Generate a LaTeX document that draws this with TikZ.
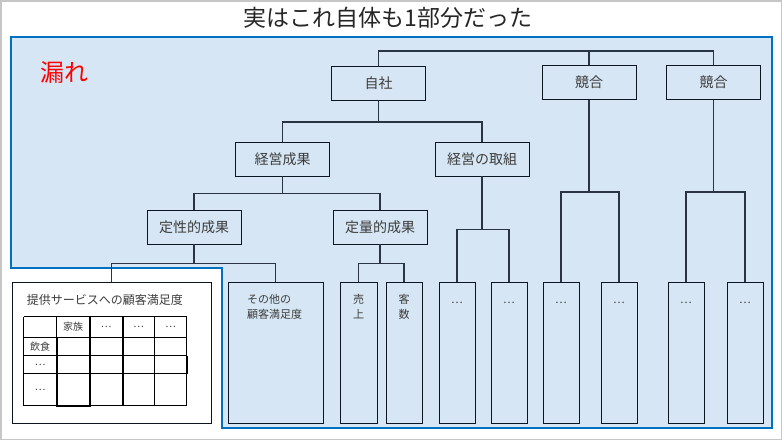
\documentclass[tikz,border=0pt]{standalone}
\usepackage{fontspec}
\setmainfont{Noto Sans CJK JP}
\usepackage{tikz}
\usetikzlibrary{positioning}
\definecolor{areablue}{RGB}{214,230,244}
\definecolor{arealine}{RGB}{0,112,192}
\definecolor{boxline}{RGB}{12,22,34}
\definecolor{linkline}{RGB}{40,52,66}
\definecolor{labeltext}{RGB}{60,60,60}
\tikzset{
    item/.style={
           rectangle,
           draw=boxline, line width=0.9pt,
           fill=areablue,
           minimum width=94pt,
           minimum height=34pt,
           inner sep=0pt,
           text=labeltext,
           font=\fontsize{14}{16}\selectfont,
           text centered,
           },
    column/.style={
           rectangle,
           draw=boxline, line width=0.9pt,
           fill=areablue,
           minimum width=36pt,
           minimum height=141pt,
           inner xsep=0pt,
           inner ysep=12pt,
           text=labeltext,
           font=\fontsize{11}{15}\selectfont,
           },
    link/.style={
           draw=linkline, line width=1.2pt,
           },
    cell/.style={
           font=\fontsize{10}{12}\selectfont,
           text=labeltext,
           inner sep=0pt,
           },
}
% text that starts at the top of a tall box
\newcommand{\coltext}[2]{\parbox[t][117pt][t]{#1}{\vphantom{客}#2}}

\begin{document}
\begin{tikzpicture}[x=1pt,y=-1pt]

 \useasboundingbox (0,0) rectangle (782,440);
 \draw[draw=gray!45, line width=1.5pt] (0.75,0.75) rectangle (781.25,439.25);

 % the blue area (what was thought to be the whole)
 \draw[fill=areablue, draw=arealine, line width=2.4pt]
  (11,37) -- (772,37) -- (772,428) -- (222,428) -- (222,268) -- (11,268) -- cycle;

 % TITLE
 \node[text={rgb,255:red,38;green,38;blue,38}] (TITLE) at (388,18)
  {\fontsize{23}{25}\selectfont 実はこれ自体も1部分だった};

 \node[text=red] (MORE) at (64.5,72)
  {\fontsize{24}{26}\selectfont 漏れ};

 % top row
 \node[item] (JISHA) at (378.5,83.5) {自社};
 \node[item] (KYOGOA) at (589,82.5) {競合};
 \node[item,
 node distance=124.5pt,
 right of=KYOGOA] (KYOGOB) {競合};

 % second row
 \node[item] (SEIKA) at (282.5,159) {経営成果};
 \node[item,
 node distance=199.5pt,
 right of=SEIKA] (TORIKUMI) {経営の取組};

 % third row
 \node[item] (TEISEI) at (194,227) {定性的成果};
 \node[item,
 node distance=186pt,
 right of=TEISEI] (TEIRYO) {定量的成果};

 % bottom row
 \node[column, fill=white, minimum width=199pt,
 font=\fontsize{12}{15}\selectfont] (MANZOKU) at (111.5,352.5)
  {\coltext{199pt}{\leftskip=15pt 提供サービスへの顧客満足度}};
 \node[column, minimum width=95pt] (SONOTA) at (275.5,352.5)
  {\coltext{95pt}{\leftskip=19pt その他の\\顧客満足度}};
 \node[column, minimum width=37pt] (URIAGE) at (358.5,352.5)
  {\coltext{37pt}{\centering 売\\上}};
 \node[column] (KYAKUSU) at (404,352.5)
  {\coltext{36pt}{\centering 客\\数}};
 \node[column] (TORIL) at (457,352.5) {\coltext{36pt}{\centering …}};
 \node[column] (TORIR) at (509,352.5) {\coltext{36pt}{\centering …}};
 \node[column] (KYOGOAL) at (561,352.5) {\coltext{36pt}{\centering …}};
 \node[column] (KYOGOAR) at (619,352.5) {\coltext{36pt}{\centering …}};
 \node[column] (KYOGOBL) at (686,352.5) {\coltext{36pt}{\centering …}};
 \node[column] (KYOGOBR) at (745,352.5) {\coltext{36pt}{\centering …}};

 % the table in the white box
 \begin{scope}[shift={(MANZOKU.north west)}]
  \foreach \c in {12,45,78,111,143,175}
   \draw[line width=0.8pt] (\c,35) -- (\c,124);
  \foreach \r in {35,56,74,92,124}
   \draw[line width=0.8pt] (12,\r) -- (175,\r);
  \draw[line width=2pt] (45,56) -- (45,124) -- (78,124) -- (78,35);
  \draw[line width=2pt] (111,35) -- (111,124);
  \draw[line width=2pt] (175,74) -- (175,92);
  \node[cell] (KAZOKU) at (61.5,45.5) {家族};
  \node[cell] (INSHOKU) at (28.5,65) {飲食};
  \node[cell] at (94.5,45.5) {…};
  \node[cell] at (127,45.5) {…};
  \node[cell] at (159,45.5) {…};
  \node[cell] at (28.5,83) {…};
  \node[cell] at (28.5,108) {…};
 \end{scope}

 % connectors
 \path[link]
  (JISHA.north) -- ++(0,-15) -| (KYOGOA.north)
  (JISHA.north) -- ++(0,-15) -| (KYOGOB.north)
  (JISHA.south) -- ++(0,21) -| (SEIKA.north)
  (JISHA.south) -- ++(0,21) -| (TORIKUMI.north)
  (SEIKA.south) -- ++(0,17) -| (TEISEI.north)
  (SEIKA.south) -- ++(0,17) -| (TEIRYO.north)
  (TEISEI.south) -- ++(0,19) -| (MANZOKU.north)
  (TEISEI.south) -- ++(0,19) -| (SONOTA.north)
  (TEIRYO.south) -- ++(0,19) -| (URIAGE.north)
  (TEIRYO.south) -- ++(0,19) -| (KYAKUSU.north)
  (TORIKUMI.south) -- ++(0,53) -| (TORIL.north)
  (TORIKUMI.south) -- ++(0,53) -| (TORIR.north)
  (KYOGOA.south) -- ++(0,92) -| (KYOGOAL.north)
  (KYOGOA.south) -- ++(0,92) -| (KYOGOAR.north)
  (KYOGOB.south) -- ++(0,92) -| (KYOGOBL.north)
  (KYOGOB.south) -- ++(0,92) -| (KYOGOBR.north)
 ;

\end{tikzpicture}
\end{document}
